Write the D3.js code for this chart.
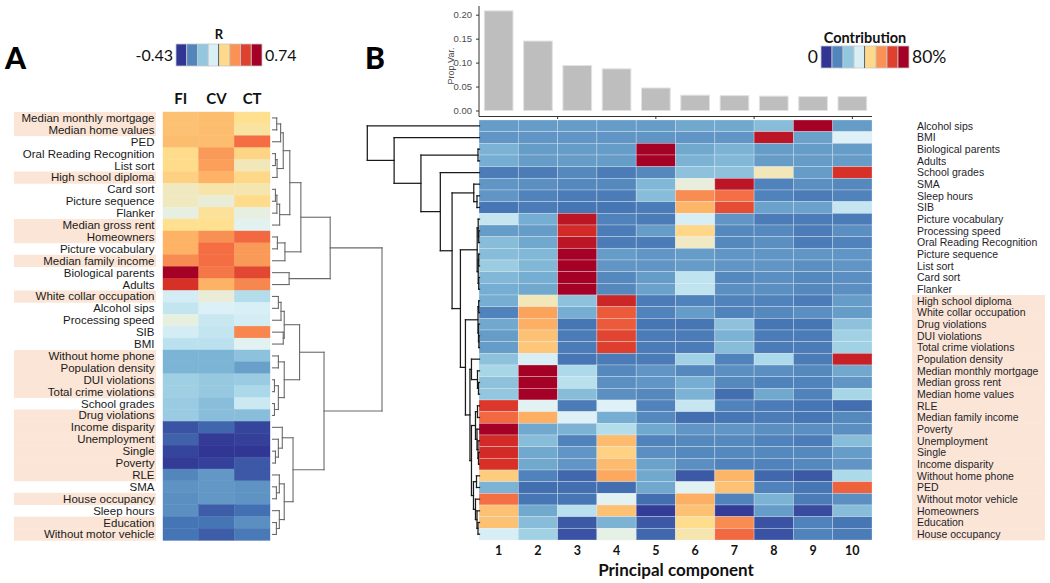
<!DOCTYPE html>
<html><head><meta charset="utf-8">
<script src="https://cdn.jsdelivr.net/npm/d3@7"></script>
<style>body{margin:0;background:#fff} svg{display:block}</style>
</head><body>
<svg id="c" width="1050" height="583"></svg>
<script>
// ---------------- DATA ----------------
const rowsA = ["Median monthly mortgage","Median home values","PED","Oral Reading Recognition","List sort","High school diploma","Card sort","Picture sequence","Flanker","Median gross rent","Homeowners","Picture vocabulary","Median family income","Biological parents","Adults","White collar occupation","Alcohol sips","Processing speed","SIB","BMI","Without home phone","Population density","DUI violations","Total crime violations","School grades","Drug violations","Income disparity","Unemployment","Single","Poverty","RLE","SMA","House occupancy","Sleep hours","Education","Without motor vehicle"];
const colsA = ["FI","CV","CT"];
const fiR = [0.30,0.30,0.31,0.23,0.23,0.26,0.16,0.16,0.12,0.22,0.34,0.34,0.42,0.74,0.61,0.06,0.02,0.12,0.06,0.00,-0.15,-0.15,-0.07,-0.07,-0.08,-0.08,-0.37,-0.34,-0.40,-0.42,-0.26,-0.23,-0.24,-0.24,-0.30,-0.30];
const cvR = [0.31,0.31,0.31,0.39,0.38,0.34,0.19,0.13,0.21,0.22,0.41,0.48,0.48,0.46,0.34,0.13,0.08,0.03,0.02,0.00,-0.15,-0.15,-0.09,-0.09,-0.12,-0.12,-0.33,-0.42,-0.43,-0.41,-0.22,-0.22,-0.22,-0.35,-0.30,-0.35];
const ctR = [0.22,0.20,0.48,0.25,0.17,0.24,0.18,0.23,0.12,0.10,0.49,0.39,0.39,0.56,0.43,-0.02,0.07,0.06,0.43,0.10,-0.11,-0.20,-0.08,-0.04,0.04,-0.12,-0.40,-0.41,-0.43,-0.36,-0.36,-0.23,-0.23,-0.31,-0.24,-0.29];
const rRange = [-0.43, 0.74];
const envVars = ["Median monthly mortgage","Median home values","High school diploma","Median gross rent","Homeowners","Median family income","White collar occupation","Without home phone","Population density","DUI violations","Total crime violations","Drug violations","Income disparity","Unemployment","Single","Poverty","RLE","House occupancy","Education","Without motor vehicle"];
const envExtraB = ["PED"];
// dendrogram A: [height, left, right], leaves = row number (1-based) in rowsA
const dA_top1 = [17.7, [11, [8.3, [4.3, 1, 2], 3], [4.7, [3, 4, 5], 6]], [7.3, [4.5, [3, 7, 8], 9], 10]];
const dA_top2 = [12.7, [5, 11, 12], 13];
const dA_top = [59, [29, dA_top1, dA_top2], [17, 14, 15]];
const dA_bot1 = [27.7, [12, [8.7, [6, 16, 17], 18], [11, 19, 20]], [12, [6, 21, 22], [6, [2, 23, 24], [2, 25, 26]]]];
const dA_bot2 = [21, [10, 27, [6, 28, [3, 29, 30]]], [12, [7, 31, [4, 32, 33]], [7, 34, [4, 35, 36]]]];
const dendroA = [112, dA_top, [52.7, dA_bot1, dA_bot2]];

const rowsB = ["Alcohol sips","BMI","Biological parents","Adults","School grades","SMA","Sleep hours","SIB","Picture vocabulary","Processing speed","Oral Reading Recognition","Picture sequence","List sort","Card sort","Flanker","High school diploma","White collar occupation","Drug violations","DUI violations","Total crime violations","Population density","Median monthly mortgage","Median gross rent","Median home values","RLE","Median family income","Poverty","Unemployment","Single","Income disparity","Without home phone","PED","Without motor vehicle","Homeowners","Education","House occupancy"];
const pcs = ["1","2","3","4","5","6","7","8","9","10"];
const propVar = [0.208,0.145,0.094,0.087,0.047,0.032,0.031,0.030,0.029,0.029];
const propTicks = [0,0.05,0.10,0.15,0.20];
const contribRange = [0, 80];
// contribution (%) per row of rowsB, columns = PC1..PC10
const contribution = [
  [15,15,15,15,15,17,17,21,80,15],
  [14,14,14,14,14,14,14,76,16,35],
  [19,15,15,15,80,17,19,15,15,15],
  [18,15,15,15,80,19,20,15,15,15],
  [10,10,12,10,12,22,22,41,15,71],
  [14,13,12,12,20,38,76,11,13,12],
  [14,11,10,10,21,58,62,11,10,11],
  [9,10,9,9,10,52,67,16,16,31],
  [31,18,76,11,10,34,14,10,10,10],
  [15,15,72,10,15,46,12,12,10,13],
  [21,17,76,10,10,40,12,13,10,11],
  [21,20,80,15,14,15,14,14,14,14],
  [24,20,80,14,14,15,14,14,13,14],
  [20,18,80,12,15,30,12,13,12,13],
  [18,17,80,12,16,30,13,13,12,13],
  [18,41,22,73,10,11,11,11,10,15],
  [11,55,18,65,11,15,11,12,13,15],
  [17,53,9,65,9,9,22,9,9,22],
  [15,50,10,68,10,10,19,10,10,25],
  [15,49,10,69,10,10,21,10,10,25],
  [22,34,9,10,10,25,11,27,10,74],
  [26,80,27,12,14,12,13,13,12,17],
  [22,80,29,13,14,18,12,11,11,14],
  [23,80,21,13,12,19,8,17,11,26],
  [70,36,10,35,11,31,11,10,9,8],
  [63,53,35,18,12,8,9,10,9,12],
  [80,17,19,28,17,14,14,13,13,13],
  [72,21,11,51,11,12,12,11,10,21],
  [72,17,14,47,13,12,12,12,12,15],
  [71,17,14,51,16,13,11,11,12,14],
  [48,11,7,54,17,5,52,7,5,27],
  [19,8,8,8,17,36,50,11,9,64],
  [62,9,9,36,8,53,11,19,10,13],
  [50,17,29,50,1,50,1,15,3,21],
  [50,21,5,19,5,45,58,4,11,9],
  [34,25,4,37,7,42,63,4,11,10]];
// dendrogram B: leaves = row number (1-based) in rowsB
const dB_cog = [2.3, [1.3, 9, [0.8, 10, 11]], [1.3, [0.8, 12, 13], [0.8, 14, 15]]];
const dB_crime = [1.5, [0.8, 16, 17], [1, 18, [0.6, 19, 20]]];
const dB_home = [8, 21, [2, 22, [1, 23, 24]]];
const dB_ses = [4, [2, 25, 26], [2.5, 27, [1.5, 28, [1, 29, 30]]]];
const dB_misc = [6, [3, 31, 32], [4, 33, [2.5, 34, [1.5, 35, 36]]]];
const dB_env = [14, dB_crime, [9.5, dB_home, [8, dB_ses, dB_misc]]];
const dB_mid = [27.3, [5.7, 6, [2.5, 7, 8]], [19, dB_cog, dB_env]];
const dendroB = [111.7, 1, [85, 2, [58.3, [1.5, 3, 4], [39, 5, dB_mid]]]];

// ---------------- DRAW ----------------
const palette = ["#313695","#4575b4","#74add1","#abd9e9","#e0f3f8","#fee090","#fdae61","#f46d43","#d73027","#a50026"];
function makeColor(range){
  const [a,b] = range;
  return d3.scaleLinear().domain(palette.map((_,i)=>a+i*(b-a)/(palette.length-1))).range(palette).clamp(true);
}
const colA = makeColor(rRange), colB = makeColor(contribRange);
const svg = d3.select("#c");
const LAB = "'Liberation Sans', Arial, sans-serif";
const HEAD = "Lato, 'Open Sans', sans-serif";

// panel letters
svg.append("text").attr("x",5).attr("y",69).text("A").attr("font-family",HEAD).attr("font-weight",900).attr("font-size",30).attr("fill","#000");
svg.append("text").attr("x",365).attr("y",69).text("B").attr("font-family",HEAD).attr("font-weight",900).attr("font-size",30).attr("fill","#000");

// ----- Panel A -----
const xA = d3.scaleBand().domain(colsA).range([163,270]);
const yA = d3.scaleBand().domain(rowsA).range([112,540.4]);
const gA = svg.append("g");
gA.selectAll("rect.hl").data(rowsA.filter(r=>envVars.includes(r))).join("rect")
  .attr("x",14).attr("width",142).attr("y",d=>yA(d)).attr("height",yA.bandwidth()+0.3).attr("fill","#fbe5d6");
const cellsA = [];
rowsA.forEach((r,i)=>{ [fiR,cvR,ctR].forEach((arr,j)=>cellsA.push({r, c:colsA[j], v:arr[i]})); });
gA.selectAll("rect.cell").data(cellsA).join("rect")
  .attr("x",d=>xA(d.c)).attr("y",d=>yA(d.r)).attr("width",xA.bandwidth()).attr("height",yA.bandwidth())
  .attr("fill",d=>colA(d.v)).attr("stroke",d=>colA(d.v)).attr("stroke-width",0.4);
gA.selectAll("text.row").data(rowsA).join("text")
  .attr("x",154.5).attr("y",d=>yA(d)+yA.bandwidth()/2+4).attr("text-anchor","end")
  .attr("font-family",LAB).attr("font-size",11.5).attr("fill","#1a1a1a").text(d=>d);
gA.selectAll("text.col").data(colsA).join("text")
  .attr("x",d=>xA(d)+xA.bandwidth()/2).attr("y",104).attr("text-anchor","middle")
  .attr("font-family",HEAD).attr("font-weight",700).attr("font-size",15).attr("fill","#111").text(d=>d);

function drawDendro(g, tree, leafY, xs, color, sw){
  const segs = [];
  (function rec(n){
    if (typeof n === "number") return {y: leafY(n), h: 0};
    const a = rec(n[1]), b = rec(n[2]);
    const x = xs(n[0]);
    segs.push([x,a.y,x,b.y],[x,a.y,xs(a.h),a.y],[x,b.y,xs(b.h),b.y]);
    return {y:(a.y+b.y)/2, h:n[0]};
  })(tree);
  g.selectAll("line").data(segs).join("line")
    .attr("x1",d=>d[0]).attr("y1",d=>d[1]).attr("x2",d=>d[2]).attr("y2",d=>d[3])
    .attr("stroke",color).attr("stroke-width",sw).attr("stroke-linecap","square");
}
drawDendro(svg.append("g"), dendroA, i=>yA(rowsA[i-1])+yA.bandwidth()/2,
  d3.scaleLinear().domain([0,112]).range([272.5,382]), "#6a6a6a", 1.1);

// legends
function legend(x0, x1, y0, y1, range, col, title, tx, ty, tsize, lo, hi, nsize){
  const n = 8, w = (x1-x0)/n;
  const vals = d3.range(n).map(i=>range[0]+i*(range[1]-range[0])/(n-1));
  const g = svg.append("g");
  g.selectAll("rect").data(vals).join("rect")
    .attr("x",(d,i)=>x0+i*w).attr("y",y0).attr("width",w).attr("height",y1-y0)
    .attr("fill",d=>col(d)).attr("stroke","#c8c8c8").attr("stroke-width",0.8);
  g.append("line").attr("x1",x0+4*w-0.5).attr("x2",x0+4*w-0.5).attr("y1",y0).attr("y2",y1).attr("stroke","#666").attr("stroke-width",1);
  g.append("text").attr("x",tx).attr("y",ty).attr("text-anchor","middle").attr("font-family",HEAD)
    .attr("font-weight",700).attr("font-size",tsize).attr("fill","#111").text(title);
  g.append("text").attr("x",x0-3).attr("y",(y0+y1)/2+nsize*0.36).attr("text-anchor","end").attr("font-family",HEAD)
    .attr("font-size",nsize).attr("fill","#111").text(lo);
  g.append("text").attr("x",x1+3).attr("y",(y0+y1)/2+nsize*0.36).attr("font-family",HEAD)
    .attr("font-size",nsize).attr("fill","#111").text(hi);
}
legend(176,262,44,66,rRange,colA,"R",219,39,13,"-0.43","0.74",16);
legend(821,909,46,68,contribRange,colB,"Contribution",865,43,14.5,"0","80%",17.5);

// ----- Panel B -----
const xB = d3.scaleBand().domain(pcs).range([479,872]);
const yB = d3.scaleBand().domain(rowsB).range([120,540]);
const gB = svg.append("g");
const envB = envVars.concat(envExtraB);
gB.selectAll("rect.hl").data(rowsB.filter(r=>envB.includes(r))).join("rect")
  .attr("x",912).attr("width",133).attr("y",d=>yB(d)).attr("height",yB.bandwidth()+0.3).attr("fill","#fbe5d6");
const cellsB = [];
rowsB.forEach((r,i)=>contribution[i].forEach((v,j)=>cellsB.push({r, c:pcs[j], v})));
gB.selectAll("rect.cell").data(cellsB).join("rect")
  .attr("x",d=>xB(d.c)).attr("y",d=>yB(d.r)).attr("width",xB.bandwidth()).attr("height",yB.bandwidth())
  .attr("fill",d=>colB(d.v)).attr("stroke","rgba(235,240,245,0.45)").attr("stroke-width",0.7);
gB.selectAll("text.row").data(rowsB).join("text")
  .attr("x",917).attr("y",d=>yB(d)+yB.bandwidth()/2+3.7)
  .attr("font-family",LAB).attr("font-size",10.5).attr("fill","#1e1e2a").text(d=>d);
gB.selectAll("text.pc").data(pcs).join("text")
  .attr("x",d=>xB(d)+xB.bandwidth()/2).attr("y",555).attr("text-anchor","middle")
  .attr("font-family",HEAD).attr("font-weight",700).attr("font-size",12.5).attr("fill","#111").text(d=>d);
svg.append("text").attr("x",676).attr("y",575.5).attr("text-anchor","middle").attr("font-family",HEAD)
  .attr("font-weight",700).attr("font-size",17).attr("fill","#111").text("Principal component");
drawDendro(svg.append("g"), dendroB, i=>yB(rowsB[i-1])+yB.bandwidth()/2,
  d3.scaleLinear().domain([0,111.7]).range([479.5,367.3]), "#1a1a1a", 1.25);

// bar chart
const yBar = d3.scaleLinear().domain([0,0.2]).range([110.5,14.7]);
const gBar = svg.append("g");
const bw = xB.bandwidth()*0.73;
gBar.selectAll("rect").data(propVar).join("rect")
  .attr("x",(d,i)=>xB(pcs[i])+(xB.bandwidth()-bw)/2).attr("width",bw)
  .attr("y",d=>yBar(d)).attr("height",d=>yBar(0)-yBar(d))
  .attr("fill","#bebebe").attr("stroke","#e2e2e2").attr("stroke-width",1);
const ax = gBar.append("g").attr("transform","translate(479,0)")
  .call(d3.axisLeft(yBar).tickValues(propTicks).tickFormat(d3.format(".2f")).tickSize(3));
ax.select(".domain").remove();
ax.selectAll("line").attr("stroke","#333");
ax.selectAll("text").attr("font-family",LAB).attr("font-size",9.5).attr("fill","#4d4d4d").attr("dx",-1);
gBar.append("line").attr("x1",479).attr("x2",479).attr("y1",6).attr("y2",116.5).attr("stroke","#333").attr("stroke-width",1);
gBar.append("line").attr("x1",479).attr("x2",872).attr("y1",116.5).attr("y2",116.5).attr("stroke","#333").attr("stroke-width",1);
const xCont = d3.scaleLinear().domain([0.5,10.5]).range([479,872]);
gBar.selectAll("line.xt").data([2.5,5,7.5,10]).join("line").attr("class","xt")
  .attr("x1",d=>xCont(d)).attr("x2",d=>xCont(d)).attr("y1",116.5).attr("y2",119).attr("stroke","#333");
svg.append("text").attr("transform","translate(454,66) rotate(-90)").attr("text-anchor","middle")
  .attr("font-family",LAB).attr("font-size",9).attr("fill","#4d4d4d").text("Prop.Var.");
</script>
</body></html>
